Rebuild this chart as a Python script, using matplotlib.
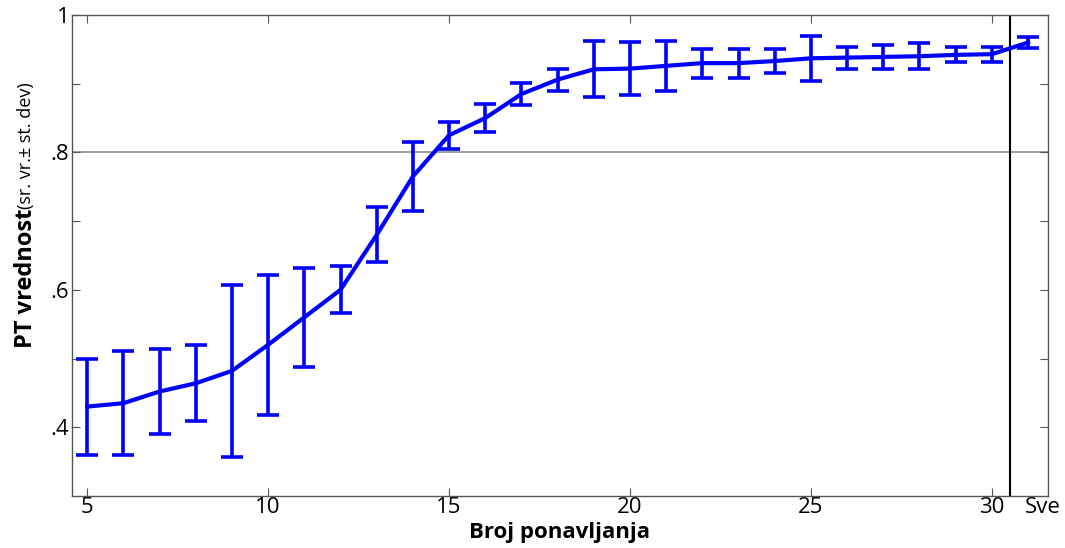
import numpy as np
import matplotlib
matplotlib.use('Agg')
import matplotlib.pyplot as plt

plt.rcParams['font.family'] = ['Open Sans', 'DejaVu Sans']

# Repetitions (31 stands for "Sve" = all)
reps = [5, 6, 7, 8, 9, 10, 11, 12, 13, 14, 15, 16, 17, 18,
        19, 20, 21, 22, 23, 24, 25, 26, 27, 28, 29, 30, 31]
pt_mean = [0.430, 0.435, 0.452, 0.464, 0.482, 0.520, 0.560, 0.600, 0.680, 0.765,
           0.825, 0.850, 0.885, 0.906, 0.921, 0.922, 0.926, 0.930, 0.930, 0.933,
           0.937, 0.938, 0.939, 0.940, 0.942, 0.943, 0.960]
pt_std = [0.070, 0.076, 0.062, 0.055, 0.125, 0.102, 0.072, 0.034, 0.040, 0.050,
          0.020, 0.020, 0.016, 0.016, 0.041, 0.038, 0.036, 0.021, 0.021, 0.017,
          0.033, 0.016, 0.018, 0.019, 0.011, 0.011, 0.008]

xticks = [5, 10, 15, 20, 25, 30]
yticks = [0.4, 0.5, 0.6, 0.7, 0.8, 0.9, 1.0]
ytick_labels = ['.4', '', '.6', '', '.8', '', '1']

fig = plt.figure(figsize=(10.65, 5.48), dpi=100)
ax = fig.add_axes([0.0676, 0.095, 0.9164, 0.8776])

ax.axhline(0.8, color='#8c8c8c', lw=1.2, zorder=1)
ax.axvline(30.5, color='black', lw=1.5, zorder=1)

ax.errorbar(reps, pt_mean, yerr=pt_std, color='#0000ff', lw=3,
            elinewidth=2.6, capsize=8, capthick=2.6, zorder=3)

ax.set_xlim(4.58, 31.55)
ax.set_ylim(0.3, 1.0)

ax.set_xticks(xticks + [31.4])
ax.set_xticklabels([str(t) for t in xticks] + ['Sve'], fontsize=16)
ax.set_yticks(yticks)
ax.set_yticklabels(ytick_labels, fontsize=16)
ax.tick_params(direction='in', length=6, width=0.8, color='#555555',
               top=True, right=True)
ax.tick_params(axis='x', pad=1)
ax.tick_params(axis='y', pad=2)
xt = ax.xaxis.get_major_ticks()[-1]
xt.tick1line.set_visible(False)
xt.tick2line.set_visible(False)

for s in ax.spines.values():
    s.set_color('#555555')
    s.set_linewidth(1.0)

ax.set_xlabel('Broj ponavljanja', fontsize=16, fontweight='bold', labelpad=3)

# y label: bold part + normal part
t1 = fig.text(0.024, 0.365, 'PT vrednost', rotation=90, fontsize=17,
              fontweight='bold', ha='center', va='bottom')
ax.annotate('(sr. vr.\u00b1 st. dev)', xy=(0.5, 1), xycoords=t1,
            rotation=90, fontsize=13, ha='center', va='bottom')

plt.savefig('out.png', dpi=100)
